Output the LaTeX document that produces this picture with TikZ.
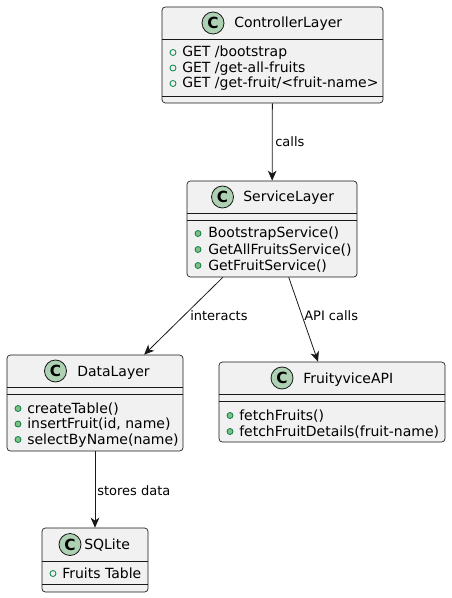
\documentclass[tikz,border=0pt]{standalone}
\usepackage{fontspec}
\setmainfont{DejaVu Sans}
\usetikzlibrary{arrows.meta,fit}
\definecolor{boxfill}{HTML}{F1F1F1}
\definecolor{boxline}{HTML}{181818}
\definecolor{iconfill}{HTML}{ADD1B2}
\definecolor{memline}{HTML}{038048}
\definecolor{memfill}{HTML}{84BE84}
\begin{document}
\begin{tikzpicture}[x=0.75pt,y=-0.75pt,
 classbox/.style={draw=boxline, fill=boxfill, line width=0.5pt, rounded corners=2.5pt, inner sep=0pt},
 sepline/.style={draw=boxline, line width=0.5pt},
 icon/.style={circle, draw=boxline, fill=iconfill, line width=0.6pt, minimum size=16.5pt, inner sep=0pt, font=\fontsize{11.5pt}{11.5pt}\selectfont\bfseries},
 cname/.style={anchor=base west, inner sep=0pt, font=\fontsize{10.5pt}{12pt}\selectfont},
 member/.style={anchor=base west, inner sep=0pt, font=\fontsize{10.5pt}{12pt}\selectfont},
 fieldmark/.style={circle, draw=memline, line width=0.6pt, minimum size=4.5pt, inner sep=0pt},
 methmark/.style={fieldmark, fill=memfill},
 conn/.style={draw=boxline, line width=0.6pt, -{Stealth[length=7.5pt,width=6.5pt,inset=2.2pt]}},
 elabel/.style={anchor=base west, inner sep=0pt, font=\fontsize{9.75pt}{11pt}\selectfont}]
\useasboundingbox (0,0) rectangle (452,598);

% ControllerLayer
\node[classbox, fit={(162,7) (383,103)}] (ctrl) {};
\draw[sepline] (162,39) -- (383,39);
\draw[sepline] (162,96) -- (383,96);
\node[icon] (ctrlicon) at (213,23) {C};
\node[cname] (ctrlname) at (234,28) {ControllerLayer};
\node[fieldmark] (ctrlk1) at (173,52.5) {};
\node[member] (ctrlm1) at (182,57) {GET /bootstrap};
\node[fieldmark] (ctrlk2) at (173,68) {};
\node[member] (ctrlm2) at (182,72.5) {GET /get-all-fruits};
\node[fieldmark] (ctrlk3) at (173,83.5) {};
\node[member] (ctrlm3) at (182,88) {GET /get-fruit/<fruit-name>};

% ServiceLayer
\node[classbox, fit={(187,181) (357,277)}] (svc) {};
\draw[sepline] (187,213) -- (357,213);
\draw[sepline] (187,220) -- (357,220);
\node[icon] (svcicon) at (222.5,197) {C};
\node[cname] (svcname) at (243,202) {ServiceLayer};
\node[methmark] (svck1) at (198,233.5) {};
\node[member] (svcm1) at (208,238) {BootstrapService()};
\node[methmark] (svck2) at (198,249.5) {};
\node[member] (svcm2) at (208,254) {GetAllFruitsService()};
\node[methmark] (svck3) at (198,265.5) {};
\node[member] (svcm3) at (208,270) {GetFruitService()};

% DataLayer
\node[classbox, fit={(7,355) (183,451)}] (data) {};
\draw[sepline] (7,387) -- (183,387);
\draw[sepline] (7,394) -- (183,394);
\node[icon] (dataicon) at (55.5,371) {C};
\node[cname] (dataname) at (77,376) {DataLayer};
\node[methmark] (datak1) at (18,408.5) {};
\node[member] (datam1) at (27,413) {createTable()};
\node[methmark] (datak2) at (18,424) {};
\node[member] (datam2) at (27,428.5) {insertFruit(id, name)};
\node[methmark] (datak3) at (18,439.5) {};
\node[member] (datam3) at (27,444) {selectByName(name)};

% FruityviceAPI
\node[classbox, fit={(219,362) (445,442)}] (fruity) {};
\draw[sepline] (219,394) -- (445,394);
\draw[sepline] (219,401) -- (445,401);
\node[icon] (fruityicon) at (282,378) {C};
\node[cname] (fruityname) at (303,383) {FruityviceAPI};
\node[methmark] (fruityk1) at (230,415.5) {};
\node[member] (fruitym1) at (239,420) {fetchFruits()};
\node[methmark] (fruityk2) at (230,431.5) {};
\node[member] (fruitym2) at (239,436) {fetchFruitDetails(fruit-name)};

% SQLite
\node[classbox, fit={(42,528) (148,592)}] (sqlite) {};
\draw[sepline] (42,561) -- (148,561);
\draw[sepline] (42,584) -- (148,584);
\node[icon] (sqliteicon) at (70,544.5) {C};
\node[cname] (sqlitename) at (84,549.5) {SQLite};
\node[fieldmark] (sqlitek1) at (53,573.5) {};
\node[member] (sqlitem1) at (62,578) {Fruits Table};

% connectors
\draw[conn] (ctrl) -- (svc);
\draw[conn] (svc) -- (data);
\draw[conn] (svc) -- (fruity);
\draw[conn] (data) -- (sqlite);
\node[elabel] (lcalls) at (275,147) {calls};
\node[elabel] (linter) at (190,320) {interacts};
\node[elabel] (lapi) at (304,320) {API calls};
\node[elabel] (lstore) at (97,495) {stores data};
\end{tikzpicture}
\end{document}
